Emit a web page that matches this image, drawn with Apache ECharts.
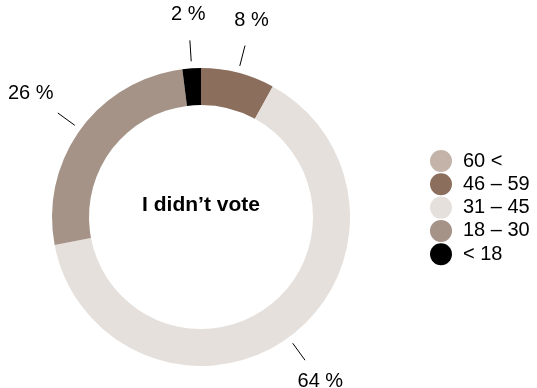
<!DOCTYPE html>
<html><head><meta charset="utf-8">
<script src="https://cdn.jsdelivr.net/npm/echarts@6/dist/echarts.min.js"></script>
<style>html,body{margin:0;padding:0;background:#fff}#c{width:537px;height:388px}</style>
</head><body><div id="c"></div>
<script>
const categories = ['60 <', '46 – 59', '31 – 45', '18 – 30', '< 18'];
const values = [0, 8, 64, 26, 2];
const colors = ['#c4b3a8', '#8c6e5d', '#e5e0dc', '#a69387', '#000000'];
const title = 'I didn\u2019t vote';

const center = [201, 217];
const font = 'Liberation Sans, Arial, Helvetica, sans-serif';

const chart = echarts.init(document.getElementById('c'));
chart.setOption({
  animation: false,
  title: {
    text: title, left: 201, top: 195, textAlign: 'center', padding: 0,
    textStyle: { fontFamily: font, fontSize: 21, fontWeight: 'bold', color: '#000' }
  },
  legend: {
    orient: 'vertical', left: 430, top: 150, padding: 0,
    icon: 'circle', itemWidth: 22, itemHeight: 22, itemGap: 1.3,
    data: categories,
    textStyle: { fontFamily: font, fontSize: 20, color: '#000', padding: [0, 0, 0, 6] },
    selectedMode: false
  },
  series: [
    {
      type: 'pie', center: center, radius: [112, 149], startAngle: 90, clockwise: true,
      label: { show: false }, labelLine: { show: false }, silent: true,
      data: categories.map((n, i) => ({ name: n, value: values[i], itemStyle: { color: colors[i] } }))
    },
    {
      type: 'pie', center: center, radius: [0, 156], startAngle: 90, clockwise: true,
      silent: true, avoidLabelOverlap: false,
      itemStyle: { color: 'rgba(0,0,0,0)' },
      label: { show: true, position: 'outside', formatter: '{c}', color: 'rgba(0,0,0,0)' },
      labelLine: { show: true, length: 21, length2: 0, lineStyle: { color: '#000', width: 1 } },
      data: categories.map((n, i) => {
        const it = { name: n, value: values[i] };
        if (values[i] === 0) { it.label = { show: false }; it.labelLine = { show: false }; }
        return it;
      })
    },
    {
      type: 'pie', center: center, radius: [180, 220], startAngle: 90, clockwise: true,
      silent: true, avoidLabelOverlap: false,
      itemStyle: { color: 'rgba(0,0,0,0)' },
      label: { show: true, position: 'inside', formatter: '{c} %', color: '#000', fontFamily: font, fontSize: 20 },
      labelLine: { show: false },
      data: categories.map((n, i) => {
        const it = { name: n, value: values[i] };
        if (values[i] === 0) { it.label = { show: false }; }
        if (n === '18 – 30') { it.label = { offset: [-6, -4] }; }
        return it;
      })
    }
  ]
});
</script></body></html>
